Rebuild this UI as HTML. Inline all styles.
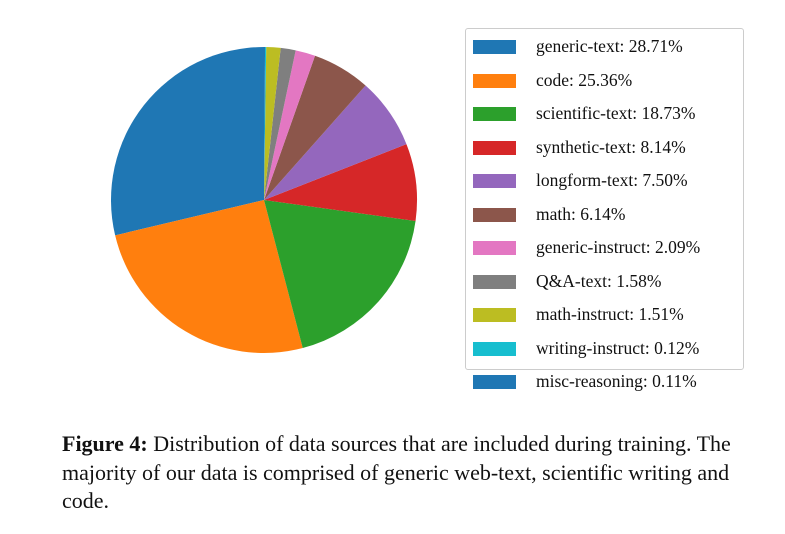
<!DOCTYPE html>
<html><head><meta charset="utf-8"><style>
body{margin:0;background:#fff;width:785px;height:534px;overflow:hidden;position:relative;font-family:"Liberation Serif",serif;}
#legend{position:absolute;left:465px;top:28px;width:279px;height:342px;border:1px solid #ccc;border-radius:3px;box-sizing:border-box;}
.entry{position:absolute;left:7px;height:20px;font-size:17.5px;color:#111;white-space:nowrap;}
.entry .sw{position:absolute;left:0;top:3px;width:43px;height:14px;}
.entry span{position:absolute;left:63px;top:-1px;}
#caption{position:absolute;left:62px;top:430px;width:700px;font-size:22px;line-height:28.5px;color:#111;}
</style></head><body>
<svg id="pie" width="785" height="420" style="position:absolute;left:0;top:0"></svg>
<div id="legend"></div>
<div id="caption"><b>Figure 4:</b> Distribution of data sources that are included during training. The majority of our data is comprised of generic web-text, scientific writing and code.</div>
<script>
const categories=["generic-text","code","scientific-text","synthetic-text","longform-text","math","generic-instruct","Q&A-text","math-instruct","writing-instruct","misc-reasoning"];
const values=[28.71,25.36,18.73,8.14,7.50,6.14,2.09,1.58,1.51,0.12,0.11];
const colors=["#1f77b4","#ff7f0e","#2ca02c","#d62728","#9467bd","#8c564b","#e377c2","#7f7f7f","#bcbd22","#17becf","#1f77b4"];
const cx=264,cy=200,r=153;
const svg=document.getElementById('pie');
const total=values.reduce((a,b)=>a+b,0);
let a=90;
values.forEach((v,i)=>{
  const a0=a, a1=a+v/total*360; a=a1;
  const p=t=>[cx+r*Math.cos(t*Math.PI/180), cy-r*Math.sin(t*Math.PI/180)];
  const [x0,y0]=p(a0),[x1,y1]=p(a1);
  const large=(a1-a0)>180?1:0;
  const path=document.createElementNS('http://www.w3.org/2000/svg','path');
  path.setAttribute('d',`M${cx},${cy}L${x0},${y0}A${r},${r} 0 ${large} 0 ${x1},${y1}Z`);
  path.setAttribute('fill',colors[i]);
  
  
  svg.appendChild(path);
});
const lg=document.getElementById('legend');
categories.forEach((c,i)=>{
  const d=document.createElement('div');
  d.className='entry';
  d.style.top=(8+i*33.5)+'px';
  
  
  d.innerHTML=`<div class="sw" style="background:${colors[i]}"></div><span>${c.replace('&','&amp;')}: ${values[i].toFixed(2)}%</span>`;
  lg.appendChild(d);
});
</script>
</body></html>
